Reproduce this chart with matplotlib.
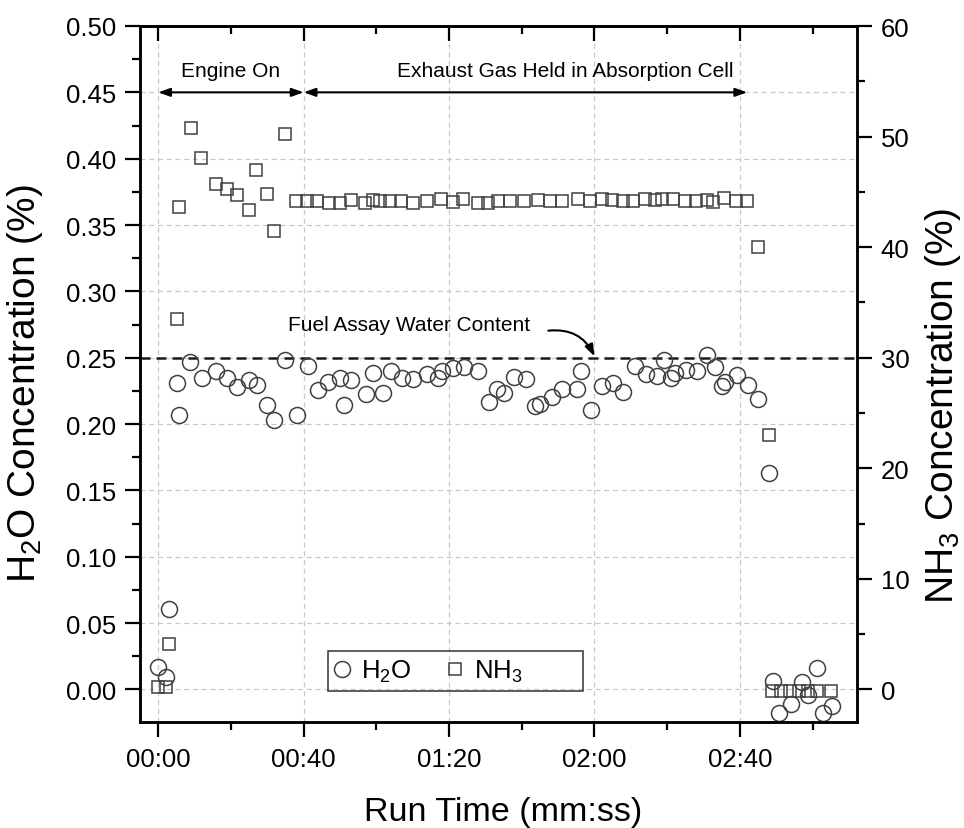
import matplotlib
matplotlib.use("Agg")
import matplotlib.pyplot as plt
from matplotlib.ticker import MultipleLocator, FuncFormatter
from matplotlib.lines import Line2D
from matplotlib.patches import Rectangle

plt.rcParams['font.family'] = ['Liberation Sans', 'DejaVu Sans']
plt.rcParams['mathtext.fontset'] = 'custom'
plt.rcParams['mathtext.rm'] = 'Liberation Sans'
plt.rcParams['mathtext.it'] = 'Liberation Sans:italic'

# ---------------- data ----------------
# H2O concentration (%) vs run time (s)
h2o_t = [0.0, 2.1, 3.0, 5.1, 5.8, 8.8, 12.0, 16.0, 18.9, 21.8, 25.0, 27.1, 29.8, 31.8,
         34.9, 38.1, 41.1, 44.0, 46.8, 50.0, 51.1, 53.0, 57.1, 59.0, 61.9, 64.0, 67.0,
         70.1, 74.0, 77.0, 78.1, 81.0, 84.2, 88.0, 91.1, 93.1, 95.1, 97.9, 101.1, 103.6,
         105.0, 108.2, 111.2, 115.1, 116.2, 119.0, 122.0, 125.2, 127.9, 131.1, 134.1,
         137.1, 139.1, 141.0, 142.1, 145.2, 148.1, 151.0, 153.2, 155.0, 155.9, 159.1,
         162.1, 165.1, 168.1, 169.0, 170.8, 174.0, 177.0, 178.8, 181.1, 182.9, 185.3]
h2o_v = [0.0167, 0.0092, 0.061, 0.231, 0.2066, 0.2465, 0.2347, 0.240, 0.235, 0.2277,
         0.2335, 0.2297, 0.2147, 0.2034, 0.2485, 0.2071, 0.2435, 0.2254, 0.232, 0.2347,
         0.2147, 0.2329, 0.2229, 0.2385, 0.2235, 0.2402, 0.2347, 0.234, 0.2377, 0.2347,
         0.2397, 0.2422, 0.243, 0.2397, 0.2164, 0.2265, 0.2235, 0.2352, 0.234, 0.2134,
         0.2152, 0.2205, 0.2265, 0.2265, 0.2402, 0.2109, 0.2289, 0.231, 0.2239, 0.2435,
         0.2377, 0.236, 0.248, 0.2347, 0.2385, 0.241, 0.2397, 0.2523, 0.243, 0.2284,
         0.2314, 0.2372, 0.2292, 0.219, 0.1628, 0.0066, -0.0177, -0.0109, 0.0059,
         -0.0041, 0.0159, -0.0177, -0.0122]

# NH3 concentration (%) vs run time (s)
nh3_t = [0.0, 2.1, 3.0, 5.1, 5.8, 8.9, 11.9, 15.9, 18.8, 21.8, 24.9, 26.9, 29.9, 31.8,
         34.9, 37.9, 41.0, 43.8, 47.0, 50.0, 53.0, 56.9, 59.0, 61.0, 63.7, 66.8, 70.0,
         73.8, 77.8, 81.0, 83.9, 88.0, 90.8, 93.5, 96.8, 100.7, 104.5, 107.8, 111.0,
         115.5, 118.8, 122.0, 124.7, 127.8, 130.7, 133.9, 136.6, 138.5, 141.7, 144.9,
         147.9, 150.9, 152.5, 155.7, 158.9, 162.0, 165.1, 168.1, 168.8, 171.3, 173.8,
         176.3, 178.7, 181.2, 185.0]
nh3_v = [0.2, 0.2, 4.1, 33.5, 43.6, 50.8, 48.1, 45.7, 45.3, 44.7, 43.4, 47.0, 44.8, 41.5,
         50.2, 44.2, 44.2, 44.2, 44.0, 44.0, 44.3, 44.0, 44.3, 44.2, 44.2, 44.2, 44.0,
         44.2, 44.4, 44.1, 44.4, 44.0, 44.0, 44.2, 44.2, 44.2, 44.25, 44.2, 44.2, 44.4,
         44.2, 44.4, 44.25, 44.2, 44.2, 44.4, 44.25, 44.4, 44.4, 44.2, 44.2, 44.25, 44.1,
         44.45, 44.2, 44.2, 40.0, 23.0, -0.1, -0.1, -0.1, -0.1, -0.1, -0.1, -0.1]

fuel_assay_water = 0.25
engine_on_span = (0, 40)
held_span = (40, 162)

# ---------------- figure ----------------
fig = plt.figure(figsize=(9.64, 8.29), dpi=100)
ax = fig.add_axes([140/964, 1-723/829, (857-140)/964, (723-27)/829])
ax2 = ax.twinx()

mec = '#404040'
ax.plot(h2o_t, h2o_v, ls='none', marker='o', ms=11.5, mfc='none', mec=mec, mew=1.1, zorder=4)
ax2.plot(nh3_t, nh3_v, ls='none', marker='s', ms=9, mfc='none', mec=mec, mew=1.1, zorder=4)

ax.set_xlim(-5, 192.2)
ax.set_ylim(-0.0245, 0.5)
ax2.set_ylim(-2.94, 60)

ax.xaxis.set_major_locator(MultipleLocator(40))
ax.xaxis.set_minor_locator(MultipleLocator(20))
ax.xaxis.set_major_formatter(FuncFormatter(lambda v, p: f"{int(v)//60:02d}:{int(v)%60:02d}"))
ax.yaxis.set_major_locator(MultipleLocator(0.05))
ax.yaxis.set_minor_locator(MultipleLocator(0.025))
ax.yaxis.set_major_formatter(FuncFormatter(lambda v, p: f"{v:.2f}"))
ax2.yaxis.set_major_locator(MultipleLocator(10))
ax2.yaxis.set_minor_locator(MultipleLocator(5))

ax.grid(True, which='major', color='#c8c8c8', ls=(0, (4, 3)), lw=0.9)
ax.set_axisbelow(True)

for a in (ax, ax2):
    for s in a.spines.values():
        s.set_linewidth(1.8)

ax.tick_params(axis='both', which='major', direction='out', length=11, width=1.6, labelsize=18.5, pad=6)
ax.tick_params(axis='both', which='minor', direction='out', length=5.5, width=1.6)
ax.tick_params(axis='x', which='major', pad=7)
ax2.tick_params(axis='y', which='major', direction='out', length=11, width=1.6, labelsize=18.5, pad=6)
ax2.tick_params(axis='y', which='minor', direction='out', length=5.5, width=1.6)

top = ax2.secondary_xaxis('top')
top.xaxis.set_major_locator(MultipleLocator(40))
top.xaxis.set_minor_locator(MultipleLocator(20))
top.tick_params(which='major', direction='in', length=11, width=1.6, labeltop=False, color='black')
top.tick_params(which='minor', direction='in', length=5.5, width=1.6, color='black')
top.spines['top'].set_linewidth(1.8)

# reference line
ax.axhline(fuel_assay_water, color='#1a1a1a', ls=(0, (4, 2.4)), lw=1.8, zorder=3)

# span arrows
arr = dict(arrowstyle='<|-|>,head_length=0.7,head_width=0.25', color='black', lw=1.5,
           shrinkA=0, shrinkB=0)
ax.annotate('', xy=(engine_on_span[0], 0.45), xytext=(engine_on_span[1], 0.45), arrowprops=arr)
ax.annotate('', xy=(held_span[0], 0.45), xytext=(held_span[1], 0.45), arrowprops=arr)
ax.text(sum(engine_on_span)/2, 0.4668, 'Engine On', ha='center', va='center', fontsize=15)
ax.text(112, 0.4668, 'Exhaust Gas Held in Absorption Cell', ha='center', va='center', fontsize=15)

ax.text(35.7, 0.2754, 'Fuel Assay Water Content', ha='left', va='center', fontsize=15)
ax.annotate('', xy=(120, 0.251), xytext=(107.3, 0.2704),
            arrowprops=dict(arrowstyle='-|>,head_length=0.7,head_width=0.25', color='black', lw=1.5,
                            shrinkA=0, shrinkB=0, connectionstyle='arc3,rad=-0.35'))

# labels
ax.set_xlabel('Run Time (mm:ss)', fontsize=24.5, va='center')
ax.xaxis.set_label_coords(0.506, -0.128)
ax.set_ylabel('H$_2$O Concentration (%)', fontsize=28, va='center')
ax.yaxis.set_label_coords(-0.16, 0.488)
ax2.set_ylabel('NH$_3$ Concentration (%)', fontsize=28, va='center')
ax2.yaxis.set_label_coords(1.12, 0.455)

# legend
h1 = Line2D([], [], ls='none', marker='o', ms=11.5, mfc='none', mec=mec, mew=1.1)
h2 = Line2D([], [], ls='none', marker='s', ms=9, mfc='none', mec=mec, mew=1.1)
leg = ax2.legend([h1, h2], ['H$_2$O', 'NH$_3$'], ncol=2, loc='center left',
                 bbox_to_anchor=(0.2636, 0.0733), fontsize=18.5, frameon=False,
                 handlelength=1.0, handletextpad=0.25, columnspacing=1.2,
                 borderpad=0.0, borderaxespad=0)
ax2.add_patch(Rectangle((0.2622, 0.0445), 0.6179-0.2622, 0.102-0.0445, transform=ax2.transAxes,
                        fill=False, edgecolor='#333333', lw=1.1, zorder=5))

fig.savefig('out.png', dpi=100)
